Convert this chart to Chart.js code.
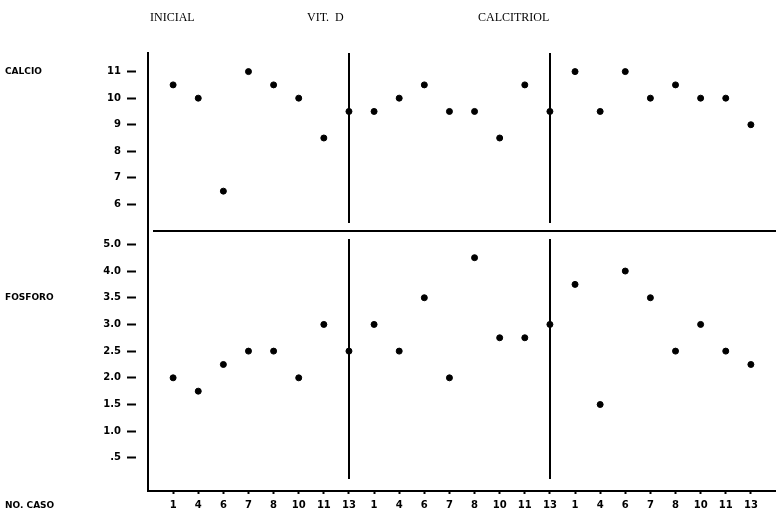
<!DOCTYPE html>
<html>
<head>
<meta charset="utf-8">
<script src="https://cdn.jsdelivr.net/npm/chart.js@4"></script>
<style>
  body { margin: 0; background: #fff; }
  #wrap { width: 776px; height: 519px; position: relative; }
</style>
</head>
<body>
<div id="wrap"><canvas id="casos"></canvas></div>
<script>
//groups and cases
const grupos = ["INICIAL", "VIT.  D", "CALCITRIOL"];
const casos = [1, 4, 6, 7, 8, 10, 11, 13];
//calcio per group (same case order)
const calcioInicial = [10.5, 10, 6.5, 11, 10.5, 10, 8.5, 9.5];
const calcioVitD = [9.5, 10, 10.5, 9.5, 9.5, 8.5, 10.5, 9.5];
const calcioCalcitriol = [11, 9.5, 11, 10, 10.5, 10, 10, 9];
//fosforo per group
const fosforoInicial = [2.0, 1.75, 2.25, 2.5, 2.5, 2.0, 3.0, 2.5];
const fosforoVitD = [3.0, 2.5, 3.5, 2.0, 4.25, 2.75, 2.75, 3.0];
const fosforoCalcitriol = [3.75, 1.5, 4.0, 3.5, 2.5, 3.0, 2.5, 2.25];
//tick labels
const calcioTicks = [6, 7, 8, 9, 10, 11];
const fosforoTickVals = [0.5, 1.0, 1.5, 2.0, 2.5, 3.0, 3.5, 4.0, 4.5];
const fosforoTicks = [".5", "1.0", "1.5", "2.0", "2.5", "3.0", "3.5", "4.0", "5.0"];

const tickFont = { family: "'DejaVu Sans'", size: 10, weight: "bold" };

//x position of each case: group block of 8 slots
function puntos(vals, g) {
  return vals.map((v, i) => ({ x: g * casos.length + i + 1, y: v }));
}
function serie(vals, g, axis) {
  return {
    data: puntos(vals, g),
    yAxisID: axis,
    backgroundColor: "#000",
    borderColor: "#000",
    pointRadius: 3,
    showLine: false
  };
}

//x tick labels repeated for each group
const xLabels = [];
grupos.forEach(() => casos.forEach(c => xLabels.push(String(c))));

//extra drawing: headers, side labels, separators, divider
const extras = {
  id: "extras",
  afterDraw(chart) {
    const c = chart.ctx;
    const x = chart.scales.x, ca = chart.scales.yCa, p = chart.scales.yP;
    c.save();
    c.fillStyle = "#000";
    c.strokeStyle = "#000";
    //group headers
    c.font = "12px 'Liberation Serif'";
    c.textBaseline = "middle";
    c.textAlign = "left";
    c.fillText(grupos[0], 150, 18);
    c.fillText(grupos[1], 307, 18);
    c.fillText(grupos[2], 478, 18);
    //side labels
    c.font = "bold 9px 'DejaVu Sans'";
    c.fillText("CALCIO", 5, ca.getPixelForValue(11));
    c.fillText("FOSFORO", 5, p.getPixelForValue(3.5));
    c.fillText("NO. CASO", 5, 506);
    //divider between panels
    c.lineWidth = 2;
    c.beginPath();
    c.moveTo(x.left + 5, ca.bottom);
    c.lineTo(x.right, ca.bottom);
    c.stroke();
    //group separators
    [8, 16].forEach(v => {
      const px = Math.round(x.getPixelForValue(v));
      c.beginPath();
      c.moveTo(px, ca.top);
      c.lineTo(px, ca.bottom - 8);
      c.moveTo(px, p.top + 8);
      c.lineTo(px, p.bottom - 12);
      c.stroke();
    });
    c.restore();
  }
};

new Chart(document.getElementById("casos"), {
  type: "scatter",
  data: {
    datasets: [
      serie(calcioInicial, 0, "yCa"),
      serie(calcioVitD, 1, "yCa"),
      serie(calcioCalcitriol, 2, "yCa"),
      serie(fosforoInicial, 0, "yP"),
      serie(fosforoVitD, 1, "yP"),
      serie(fosforoCalcitriol, 2, "yP")
    ]
  },
  options: {
    responsive: true,
    maintainAspectRatio: false,
    animation: false,
    layout: { autoPadding: false, padding: { top: 53, left: 0, right: 0, bottom: 0 } },
    plugins: { legend: { display: false }, tooltip: { enabled: false } },
    scales: {
      x: {
        type: "linear",
        min: 0,
        max: 25,
        afterBuildTicks: s => { s.ticks = xLabels.map((l, i) => ({ value: i + 1 })); },
        afterFit: s => { s.height = 28; s.paddingLeft = 0; s.paddingRight = 0; },
        ticks: {
          color: "#000",
          font: tickFont,
          padding: 5,
          maxRotation: 0,
          autoSkip: false,
          callback: (v, i) => xLabels[i]
        },
        grid: { drawOnChartArea: false, color: "#000", tickLength: 3, tickWidth: 2 },
        border: { color: "#000", width: 2, dash: [20.1, 5], dashOffset: 22.6 }
      },
      yCa: {
        type: "linear",
        position: "left",
        stack: "panel",
        stackWeight: 178,
        weight: 2,
        min: 5,
        max: 11.7,
        afterBuildTicks: s => { s.ticks = calcioTicks.map(v => ({ value: v })); },
        afterFit: s => { s.width = 148; },
        ticks: { color: "#000", font: tickFont, padding: 6, callback: v => String(v) },
        grid: { drawOnChartArea: false, color: "#000", tickLength: 21, tickWidth: 2, tickBorderDash: [9, 40] },
        border: { color: "#000", width: 2 }
      },
      yP: {
        type: "linear",
        position: "left",
        stack: "panel",
        stackWeight: 260,
        weight: 1,
        min: -0.12,
        max: 4.75,
        afterBuildTicks: s => { s.ticks = fosforoTickVals.map(v => ({ value: v })); },
        afterFit: s => { s.width = 148; },
        ticks: { color: "#000", font: tickFont, padding: 6, callback: (v, i) => fosforoTicks[i] },
        grid: { drawOnChartArea: false, color: "#000", tickLength: 21, tickWidth: 2, tickBorderDash: [9, 40] },
        border: { color: "#000", width: 2 }
      }
    }
  },
  plugins: [extras]
});
</script>
</body>
</html>
